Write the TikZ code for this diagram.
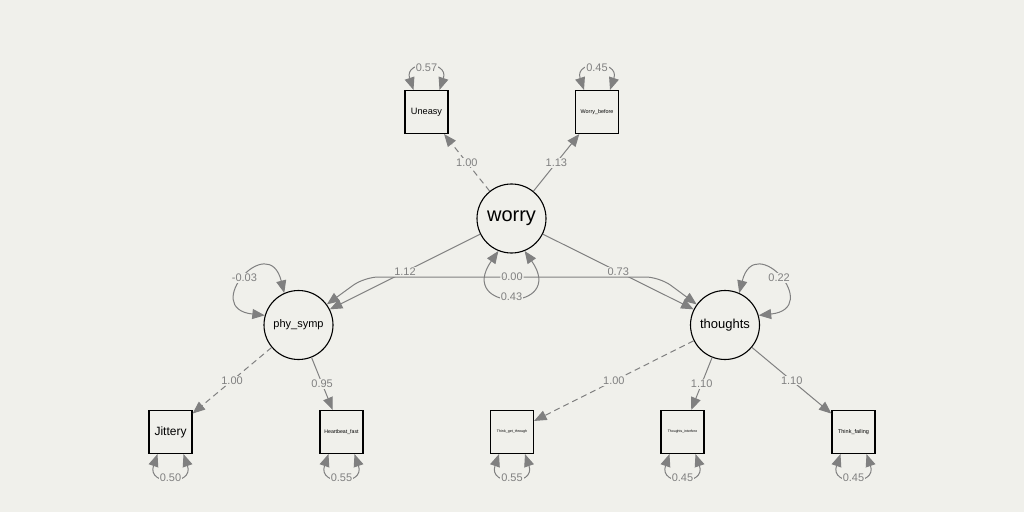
\documentclass[tikz,border=0pt]{standalone}
\usepackage{fontspec}
\setmainfont{Liberation Sans}
\usetikzlibrary{arrows.meta,calc}
\definecolor{bgc}{RGB}{240,240,235}
\definecolor{edgec}{RGB}{128,128,128}
\tikzset{
 lat/.style={circle,draw=black,line width=1.1pt,minimum size=69pt,inner sep=0pt,fill=bgc},
 man/.style={rectangle,draw=black,line width=1.1pt,minimum size=43pt,inner sep=0pt,fill=bgc},
 regpath/.style={draw=edgec,line width=1pt,-{Triangle[length=12.5pt,width=10pt]}},
 fixpath/.style={regpath,dash pattern=on 6pt off 4pt},
 varpath/.style={draw=edgec,line width=1pt,{Triangle[length=12.5pt,width=10pt]}-{Triangle[length=12.5pt,width=10pt]}},
 lbl/.style={fill=bgc,text=edgec,font=\fontsize{11}{11}\selectfont,inner sep=1pt},
}
\newcommand\semtop[2]{\draw[varpath] ($(#1.north)+(-13,0)$) .. controls +(-10,30) and +(10,30) .. node[lbl,pos=0.5]{#2} ($(#1.north)+(13,0)$);}
\newcommand\sembot[2]{\draw[varpath] ($(#1.south)+(-13,0)$) .. controls +(-11,-32) and +(11,-32) .. node[lbl,pos=0.5]{#2} ($(#1.south)+(13,0)$);}
\begin{document}
\begin{tikzpicture}[x=1pt,y=1pt]
\fill[bgc] (0,0) rectangle (1024,512);
\useasboundingbox (0,0) rectangle (1024,512);
% nodes
\node[lat,font=\fontsize{20}{20}\selectfont] (worry) at (511.5,293.5) {worry};
\node[lat,font=\fontsize{11}{11}\selectfont] (phy) at (298.5,187) {phy\_symp};
\node[lat,font=\fontsize{13}{13}\selectfont] (tho) at (725,187) {thoughts};
\node[man,font=\fontsize{9.2}{9}\selectfont] (une) at (426.5,400) {Uneasy};
\node[man,font=\fontsize{5.4}{5}\selectfont] (wb) at (597,400) {Worry\_before};
\node[man,font=\fontsize{12}{12}\selectfont] (jit) at (170.5,80) {Jittery};
\node[man,font=\fontsize{5.2}{5}\selectfont] (hb) at (341.5,80) {Heartbeat\_fast};
\node[man,font=\fontsize{3.6}{4}\selectfont] (tgt) at (512,80) {Think\_get\_through};
\node[man,font=\fontsize{3.5}{4}\selectfont] (ti) at (682.5,80) {Thoughts\_interfere};
\node[man,font=\fontsize{5.5}{5}\selectfont] (tf) at (853.5,80) {Think\_failing};
% loadings
\draw[fixpath] (worry) -- node[lbl,midway]{1.00} (une);
\draw[regpath] (worry) -- node[lbl,midway]{1.13} (wb);
\draw[regpath] (worry) -- node[lbl,midway]{1.12} (phy);
\draw[regpath] (worry) -- node[lbl,midway]{0.73} (tho);
\draw[fixpath] (phy) -- node[lbl,midway]{1.00} (jit);
\draw[regpath] (phy) -- node[lbl,midway]{0.95} (hb);
\draw[fixpath] (tho) -- node[lbl,midway]{1.00} (tgt);
\draw[regpath] (tho) -- node[lbl,midway]{1.10} (ti);
\draw[regpath] (tho) -- node[lbl,midway]{1.10} (tf);
% latent variances
\draw[varpath] (worry.248) .. controls +(235:75) and +(305:75) .. node[lbl,midway]{0.43} (worry.292);
\draw[varpath] (phy.114) .. controls +(104:65) and +(174:65) .. node[lbl,midway]{-0.03} (phy.164);
\draw[varpath] (tho.66) .. controls +(76:65) and +(6:65) .. node[lbl,midway]{0.22} (tho.16);
% covariance
\coordinate (c1) at (364.5,235);
\coordinate (c2) at (659.5,235);
\draw[varpath,rounded corners=14pt] (phy.36) -- (c1) -- node[lbl,midway]{0.00} (c2) -- (tho.144);
% residual variances
\semtop{une}{0.57}
\semtop{wb}{0.45}
\sembot{jit}{0.50}
\sembot{hb}{0.55}
\sembot{tgt}{0.55}
\sembot{ti}{0.45}
\sembot{tf}{0.45}
\end{tikzpicture}
\end{document}
